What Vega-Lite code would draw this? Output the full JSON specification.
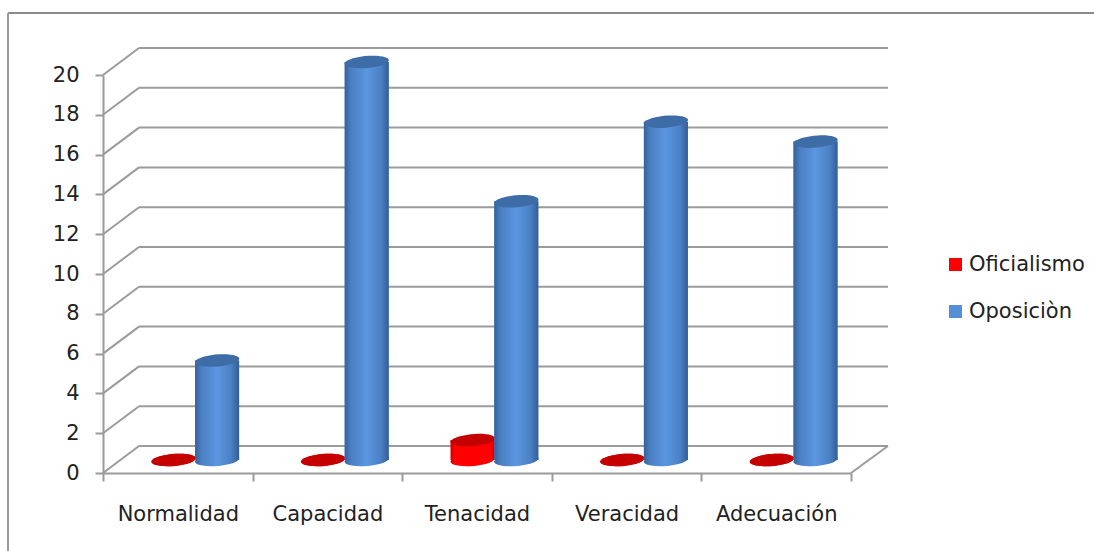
{
"$schema":"https://vega.github.io/schema/vega-lite/v6.json",
"width":748,"height":398,
"autosize":{"type":"none"},
"padding":{"left":103,"top":75,"right":243,"bottom":78},
"background":"#ffffff",
"config":{"view":{"stroke":null},"font":"DejaVu Sans"},
"data":{"values":[
{"categoria":"Normalidad","serie":"Oficialismo","valor":0},
{"categoria":"Capacidad","serie":"Oficialismo","valor":0},
{"categoria":"Tenacidad","serie":"Oficialismo","valor":1},
{"categoria":"Veracidad","serie":"Oficialismo","valor":0},
{"categoria":"Adecuación","serie":"Oficialismo","valor":0},
{"categoria":"Normalidad","serie":"Oposiciòn","valor":5},
{"categoria":"Capacidad","serie":"Oposiciòn","valor":20},
{"categoria":"Tenacidad","serie":"Oposiciòn","valor":13},
{"categoria":"Veracidad","serie":"Oposiciòn","valor":17},
{"categoria":"Adecuación","serie":"Oposiciòn","valor":16}
]},
"layer":[
{"mark":{"type":"rule","color":"#8a8a8a","strokeWidth":2},
 "encoding":{"x":{"value":-95},"x2":{"value":991},"y":{"value":-62}}},
{"mark":{"type":"rule","color":"#9b9b9b","strokeWidth":2},
 "encoding":{"x":{"value":-95},"y":{"value":-62},"y2":{"value":476}}},
{"data":{"values":[{"v":0},{"v":2},{"v":4},{"v":6},{"v":8},{"v":10},{"v":12},{"v":14},{"v":16},{"v":18},{"v":20}]},
 "layer":[
 {"mark":{"type":"rule","color":"#9b9b9b","strokeWidth":2,"yOffset":-27},
  "encoding":{"x":{"value":36},"x2":{"value":785},
   "y":{"field":"v","type":"quantitative","title":null,"scale":{"domain":[0,20],"nice":false},
   "axis":{"values":[0,2,4,6,8,10,12,14,16,18,20],"tickCount":11,"labelOverlap":false,"grid":false,"domainColor":"#9b9b9b","domainWidth":2,"tickColor":"#9b9b9b","tickWidth":2,"tickSize":8,"labelFontSize":21,"labelColor":"#222222","labelPadding":16}}}},
 {"mark":{"type":"rule","color":"#9b9b9b","strokeWidth":2,"y2Offset":-27},
  "encoding":{"x":{"value":0},"x2":{"value":36},
   "y":{"field":"v","type":"quantitative","title":null,"axis":{"values":[0,2,4,6,8,10,12,14,16,18,20],"tickCount":11,"labelOverlap":false}},"y2":{"field":"v"}}}
 ]},
{"data":{"values":[{"v":0}]},
 "mark":{"type":"rule","color":"#9b9b9b","strokeWidth":2,"y2Offset":-27},
 "encoding":{"x":{"value":748},"x2":{"value":785},"y":{"field":"v","type":"quantitative","title":null,"axis":{"values":[0,2,4,6,8,10,12,14,16,18,20],"tickCount":11,"labelOverlap":false}},"y2":{"field":"v"}}},
{"transform":[{"filter":"datum.serie === 'Oficialismo'"}],
 "layer":[
 {"mark":{"type":"bar","width":44,"xOffset":-4.3,"yOffset":-13,"y2Offset":-13},
  "encoding":{"x":{"field":"categoria","type":"nominal","title":null,"sort":null,"scale":{"type":"band","paddingInner":0,"paddingOuter":0},
    "axis":{"tickBand":"extent","labelAngle":0,"domainColor":"#9b9b9b","domainWidth":2,"tickColor":"#9b9b9b","tickWidth":2,"tickSize":8,"labelFontSize":21,"labelColor":"#222222","labelPadding":22}},
   "y":{"field":"valor","type":"quantitative","title":null,"stack":null,"axis":{"values":[0,2,4,6,8,10,12,14,16,18,20],"tickCount":11,"labelOverlap":false}},"y2":{"datum":0},
   "color":{"field":"serie","type":"nominal","scale":{"domain":["Oficialismo","Oposiciòn"],"range":["#ff0000","#558ed5"]},
    "legend":{"title":null,"orient":"none","legendX":842,"legendY":179,"symbolType":"square","symbolSize":169,"labelFontSize":21,"labelColor":"#222222","rowPadding":25,"labelOffset":3}}}},
 {"mark":{"type":"point","filled":true,"shape":"M-1,0.05 A1,0.27,-5,1,1,1,-0.05 A1,0.27,-5,1,1,-1,0.05 Z","size":1936,"xOffset":-4.3,"yOffset":-13,"opacity":1,"strokeWidth":0,
   "fill":{"gradient":"linear","x1":0,"y1":0,"x2":1,"y2":0,"stops":[{"offset":0,"color":"#cc0000"},{"offset":0.08,"color":"#ff0000"},{"offset":0.92,"color":"#ff0000"},{"offset":1,"color":"#cc0000"}]}},
  "encoding":{"x":{"field":"categoria","type":"nominal","sort":null},"y":{"datum":0,"axis":{"values":[0,2,4,6,8,10,12,14,16,18,20],"tickCount":11,"labelOverlap":false}}}},
 {"mark":{"type":"bar","width":44,"xOffset":-4.3,"yOffset":-13,"y2Offset":-13,
   "fill":{"gradient":"linear","x1":0,"y1":0,"x2":1,"y2":0,"stops":[{"offset":0,"color":"#cc0000"},{"offset":0.08,"color":"#ff0000"},{"offset":0.92,"color":"#ff0000"},{"offset":1,"color":"#cc0000"}]}},
  "encoding":{"x":{"field":"categoria","type":"nominal","sort":null},"y":{"field":"valor","type":"quantitative","stack":null,"axis":{"values":[0,2,4,6,8,10,12,14,16,18,20],"tickCount":11,"labelOverlap":false}},"y2":{"datum":0}}},
 {"mark":{"type":"point","filled":true,"shape":"M-1,0.05 A1,0.27,-5,1,1,1,-0.05 A1,0.27,-5,1,1,-1,0.05 Z","size":1936,"xOffset":-4.3,"yOffset":-13,"opacity":1,"strokeWidth":0,"fill":"#c40000"},
  "encoding":{"x":{"field":"categoria","type":"nominal","sort":null},"y":{"field":"valor","type":"quantitative","axis":{"values":[0,2,4,6,8,10,12,14,16,18,20],"tickCount":11,"labelOverlap":false}}}}
 ]},
{"transform":[{"filter":"datum.serie === 'Oposiciòn'"}],
 "layer":[
 {"mark":{"type":"bar","width":44,"xOffset":39.3,"yOffset":-13,"y2Offset":-13},
  "encoding":{"x":{"field":"categoria","type":"nominal","sort":null},
   "y":{"field":"valor","type":"quantitative","stack":null,"axis":{"values":[0,2,4,6,8,10,12,14,16,18,20],"tickCount":11,"labelOverlap":false}},"y2":{"datum":0},
   "color":{"field":"serie","type":"nominal"}}},
 {"mark":{"type":"point","filled":true,"shape":"M-1,0.05 A1,0.27,-5,1,1,1,-0.05 A1,0.27,-5,1,1,-1,0.05 Z","size":1936,"xOffset":39.3,"yOffset":-13,"opacity":1,"strokeWidth":0,
   "fill":{"gradient":"linear","x1":0,"y1":0,"x2":1,"y2":0,"stops":[{"offset":0,"color":"#34619b"},{"offset":0.14,"color":"#4a7fc2"},{"offset":0.5,"color":"#5b96e0"},{"offset":0.82,"color":"#4b80c4"},{"offset":1,"color":"#335e94"}]}},
  "encoding":{"x":{"field":"categoria","type":"nominal","sort":null},"y":{"datum":0,"axis":{"values":[0,2,4,6,8,10,12,14,16,18,20],"tickCount":11,"labelOverlap":false}}}},
 {"mark":{"type":"bar","width":44,"xOffset":39.3,"yOffset":-13,"y2Offset":-13,
   "fill":{"gradient":"linear","x1":0,"y1":0,"x2":1,"y2":0,"stops":[{"offset":0,"color":"#34619b"},{"offset":0.14,"color":"#4a7fc2"},{"offset":0.5,"color":"#5b96e0"},{"offset":0.82,"color":"#4b80c4"},{"offset":1,"color":"#335e94"}]}},
  "encoding":{"x":{"field":"categoria","type":"nominal","sort":null},"y":{"field":"valor","type":"quantitative","stack":null,"axis":{"values":[0,2,4,6,8,10,12,14,16,18,20],"tickCount":11,"labelOverlap":false}},"y2":{"datum":0}}},
 {"mark":{"type":"point","filled":true,"shape":"M-1,0.05 A1,0.27,-5,1,1,1,-0.05 A1,0.27,-5,1,1,-1,0.05 Z","size":1936,"xOffset":39.3,"yOffset":-13,"opacity":1,"strokeWidth":0,"fill":"#3d6ca6"},
  "encoding":{"x":{"field":"categoria","type":"nominal","sort":null},"y":{"field":"valor","type":"quantitative","axis":{"values":[0,2,4,6,8,10,12,14,16,18,20],"tickCount":11,"labelOverlap":false}}}}
 ]}
]
}
